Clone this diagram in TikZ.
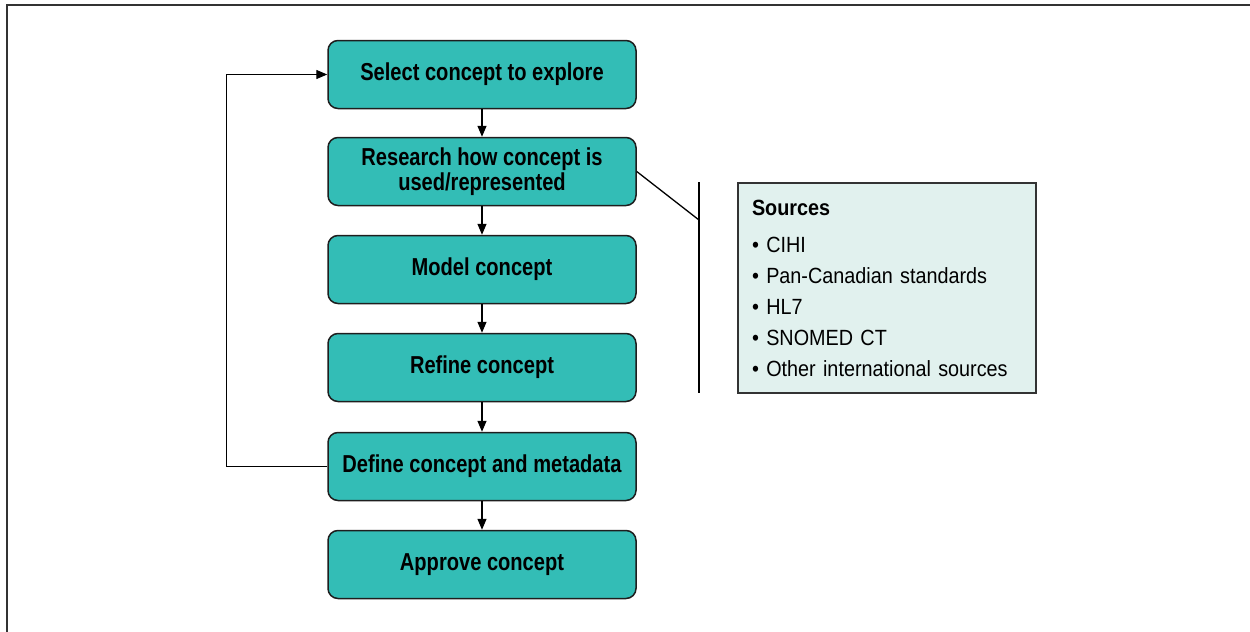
\documentclass[tikz,border=0pt]{standalone}
\usepackage{fontspec}
\setmainfont{Liberation Sans}
\newfontfamily\stepfont{Liberation Sans}[FakeStretch=0.82]
\newfontfamily\notefont{Liberation Sans}[FakeStretch=0.9]
\usetikzlibrary{arrows.meta}
\definecolor{stepfill}{HTML}{33BDB6}
\definecolor{notefill}{HTML}{E1F1EE}
\definecolor{edgegray}{HTML}{1E1E1E}
\definecolor{framegray}{HTML}{333333}

\begin{document}
\begin{tikzpicture}[x=0.5pt,y=-0.5pt,
  stepbox/.style={draw=edgegray, line width=0.75pt, fill=stepfill,
    rounded corners=5pt, minimum width=154pt, minimum height=34pt,
    inner sep=0pt, align=center,
    font=\stepfont\bfseries\fontsize{12.25}{12.5}\selectfont},
  notebox/.style={draw=framegray, line width=0.75pt, fill=notefill,
    minimum width=149pt, minimum height=105pt, text width=135pt,
    inner xsep=7pt, inner ysep=0pt, align=left,
    font=\notefont\fontsize{11}{15.5}\selectfont},
  flow/.style={draw=black, line width=0.65pt,
    -{Triangle[length=5.5pt,width=4.5pt]}},
  plain/.style={draw=black, line width=0.65pt}]

\useasboundingbox (0,0) rectangle (1250,632);

% outer frame (left and top edges)
\draw[framegray, line width=1pt] (7,632) -- (7,5) -- (1250,5);

% process steps
\node[stepbox] (s1) at (482,74.5)  {Select concept to explore};
\node[stepbox] (s2) at (482,171.5) {Research how concept is\\used/represented};
\node[stepbox] (s3) at (482,269.5) {Model concept};
\node[stepbox] (s4) at (482,367.5) {Refine concept};
\node[stepbox] (s5) at (482,466.5) {Define concept and metadata};
\node[stepbox] (s6) at (482,564.5) {Approve concept};

\draw[flow] (s1) -- (s2);
\draw[flow] (s2) -- (s3);
\draw[flow] (s3) -- (s4);
\draw[flow] (s4) -- (s5);
\draw[flow] (s5) -- (s6);

% feedback loop back to the first step
\draw[flow] (s5.west) -- ++(-101,0) |- (s1.west);

% sources note with bracket
\node[notebox] (src) at (887,288) {\textbf{Sources}\\[3pt]
• CIHI\\
• Pan-Canadian standards\\
• HL7\\
• SNOMED CT\\
• Other international sources};

\coordinate (brtop) at (699,182);
\coordinate (brbot) at (699,393);
\coordinate (brjoin) at (699,220);
\draw[plain] (brtop) -- (brbot);
\draw[plain] (s2.east) -- (brjoin);

\end{tikzpicture}
\end{document}
